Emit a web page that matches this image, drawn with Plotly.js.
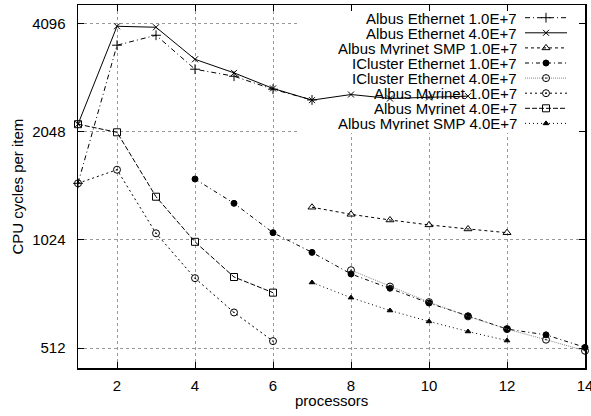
<!DOCTYPE html>
<html>
<head>
<meta charset="utf-8">
<script src="https://cdn.plot.ly/plotly-3.0.1.min.js"></script>
<style>html,body{margin:0;padding:0;background:#fff;}#chart{width:591px;height:416px;}</style>
</head>
<body>
<div id="chart"></div>
<script>
// ---- data ----
const seriesNames = [
  "Albus Ethernet 1.0E+7",
  "Albus Ethernet 4.0E+7",
  "Albus Myrinet SMP 1.0E+7",
  "ICluster Ethernet 1.0E+7",
  "ICluster Ethernet 4.0E+7",
  "Albus Myrinet 1.0E+7",
  "Albus Myrinet 4.0E+7",
  "Albus Myrinet SMP 4.0E+7"
];
const albusEth1eX = [1, 2, 3, 4, 5, 6, 7];
const albusEth1eY = [1471, 3565, 3800, 3057, 2922, 2689, 2510];
const albusEth4eX = [1, 2, 3, 4, 5, 6, 7, 8, 9, 10, 11];
const albusEth4eY = [2149, 4025, 4000, 3257, 2986, 2702, 2507, 2599, 2534, 2550, 2572];
const albusSmp1eX = [7, 8, 9, 10, 11, 12];
const albusSmp1eY = [1262, 1206, 1163, 1127, 1098, 1072];
const iclEth1eX = [4, 5, 6, 7, 8, 9, 10, 11, 12, 13, 14];
const iclEth1eY = [1512, 1294, 1072, 945, 823, 751, 683, 629, 578, 557, 514];
const iclEth4eX = [8, 9, 10, 11, 12, 13, 14];
const iclEth4eY = [843, 759, 687, 627, 578, 540, 503];
const albusMyr1eX = [1, 2, 3, 4, 5, 6];
const albusMyr1eY = [1471, 1605, 1068, 801, 643, 535];
const albusMyr4eX = [1, 2, 3, 4, 5, 6];
const albusMyr4eY = [2149, 2040, 1350, 1011, 807, 730];
const albusSmp4eX = [7, 8, 9, 10, 11, 12];
const albusSmp4eY = [779, 707, 651, 607, 569, 537];

const xTickVals = [2, 4, 6, 8, 10, 12, 14];
const yTickVals = [512, 1024, 2048, 4096];
const yTickText = ["512", "1024", "2048", "4096"];

// ---- styles ----
const FONT = "Liberation Sans, Arial, Helvetica, sans-serif";
const styles = [
  {dash: "5px,3px,1px,3px", color: "#000", symbol: "cross-thin-open", size: 7, mcolor: "#000"},
  {dash: "solid", color: "#000", symbol: "x-thin-open", size: 6, mcolor: "#000"},
  {dash: "3px,3px", color: "#000", symbol: "triangle-up-open", size: 7, mcolor: "#000"},
  {dash: "4px,3px,1px,3px", color: "#000", symbol: "circle", size: 6, mcolor: "#000"},
  {dash: "1px,1px", color: "#888", symbol: "circle-open-dot", size: 7, mcolor: "#000"},
  {dash: "2px,3px", color: "#000", symbol: "circle-open-dot", size: 7, mcolor: "#000"},
  {dash: "5px,2px", color: "#000", symbol: "square-open", size: 7, mcolor: "#000"},
  {dash: "1px,3px", color: "#000", symbol: "triangle-up", size: 5, mcolor: "#000"}
];
const xsAll = [albusEth1eX, albusEth4eX, albusSmp1eX, iclEth1eX, iclEth4eX, albusMyr1eX, albusMyr4eX, albusSmp4eX];
const ysAll = [albusEth1eY, albusEth4eY, albusSmp1eY, iclEth1eY, iclEth4eY, albusMyr1eY, albusMyr4eY, albusSmp4eY];

// ---- geometry ----
const W = 591, H = 416;
const plotL = 78, plotR = 585, plotT = 5, plotB = 368;
const xRange = [1, 14];
const yRangeLog = [Math.log10(450.4), Math.log10(4613)];
// pixel -> data helpers (used only for the hand-made key)
const pxToX = px => xRange[0] + (px - plotL) / (plotR - plotL) * (xRange[1] - xRange[0]);
const pyToY = py => Math.pow(10, yRangeLog[0] + (plotB - py) / (plotB - plotT) * (yRangeLog[1] - yRangeLog[0]));
const pxToPaper = px => (px - plotL) / (plotR - plotL);
const pyToPaper = py => (plotB - py) / (plotB - plotT);

const traces = [];
// opaque key background (drawn first: above the grid, below the data)
const keyTextRight = 518, keySampleL = 525, keySampleR = 567, keyRow0 = 17.7, keyRowStep = 15.1;
const keyBoxLeft = 297, keyBoxBottom = 133;
traces.push({
  x: [pxToX(keyBoxLeft), pxToX(plotR), pxToX(plotR), pxToX(keyBoxLeft), pxToX(keyBoxLeft)],
  y: [pyToY(plotT), pyToY(plotT), pyToY(keyBoxBottom), pyToY(keyBoxBottom), pyToY(plotT)],
  type: "scatter", mode: "lines", fill: "toself", fillcolor: "#fff", line: {width: 0, color: "rgba(0,0,0,0)"},
  showlegend: false, hoverinfo: "skip"
});
for (let i = 0; i < seriesNames.length; i++) {
  const s = styles[i];
  traces.push({
    x: xsAll[i], y: ysAll[i], name: seriesNames[i], type: "scatter", mode: "lines+markers",
    line: {color: s.color, width: 1, dash: s.dash},
    marker: {symbol: s.symbol, size: s.size, color: s.mcolor, line: {color: s.mcolor, width: 1}},
    showlegend: false, cliponaxis: false
  });
}

// ---- gnuplot-style key ----
const annotations = [];
for (let i = 0; i < seriesNames.length; i++) {
  const s = styles[i];
  const ry = keyRow0 + i * keyRowStep;
  traces.push({
    x: [pxToX(keySampleL), pxToX(keySampleR)], y: [pyToY(ry), pyToY(ry)],
    type: "scatter", mode: "lines", showlegend: false, hoverinfo: "skip",
    line: {color: s.color, width: 1, dash: s.dash}, cliponaxis: false
  });
  traces.push({
    x: [pxToX((keySampleL + keySampleR) / 2)], y: [pyToY(ry)],
    type: "scatter", mode: "markers", showlegend: false, hoverinfo: "skip",
    marker: {symbol: s.symbol, size: s.size, color: s.mcolor, line: {color: s.mcolor, width: 1}},
    cliponaxis: false
  });
  annotations.push({
    xref: "paper", yref: "paper", x: pxToPaper(keyTextRight), y: pyToPaper(ry), xanchor: "right", yanchor: "middle",
    height: 14, borderpad: 0, valign: "middle",
    text: seriesNames[i], showarrow: false, font: {family: FONT, size: 15, color: "#000"}
  });
}
// axis titles
annotations.push({
  xref: "paper", yref: "paper", x: pxToPaper((plotL + plotR) / 2), y: pyToPaper(400), xanchor: "center", yanchor: "middle",
  text: "processors", showarrow: false, font: {family: FONT, size: 15, color: "#000"}
});
annotations.push({
  xref: "paper", yref: "paper", x: pxToPaper(17), y: pyToPaper((plotT + plotB) / 2), xanchor: "center", yanchor: "middle",
  text: "CPU cycles per item", textangle: -90, showarrow: false, font: {family: FONT, size: 15, color: "#000"}
});

const layout = {
  width: W, height: H,
  margin: {l: plotL, r: W - plotR, t: plotT, b: H - plotB, pad: 0},
  paper_bgcolor: "#fff", plot_bgcolor: "#fff",
  font: {family: FONT, size: 15, color: "#000"},
  xaxis: {
    range: xRange, tickvals: xTickVals, ticks: "inside", ticklen: 6, tickwidth: 1, tickcolor: "#000",
    showline: true, linecolor: "#000", linewidth: 1.5, mirror: "ticks",
    showgrid: true, gridcolor: "#999", griddash: "dot", gridwidth: 1, zeroline: false,
    ticklabelstandoff: 3, ticklabeloverflow: "allow",
    tickfont: {family: FONT, size: 15, color: "#000"}
  },
  yaxis: {
    type: "log", range: yRangeLog,
    tickvals: yTickVals, ticktext: yTickText, ticks: "inside", ticklen: 6, tickwidth: 1, tickcolor: "#000",
    showline: true, linecolor: "#000", linewidth: 1.5, mirror: "ticks",
    showgrid: true, gridcolor: "#999", griddash: "dot", gridwidth: 1, zeroline: false,
    ticklabelstandoff: 8,
    tickfont: {family: FONT, size: 15, color: "#000"}
  },
  annotations: annotations,
  showlegend: false
};

Plotly.newPlot("chart", traces, layout, {staticPlot: true, displayModeBar: false});
</script>
</body>
</html>
